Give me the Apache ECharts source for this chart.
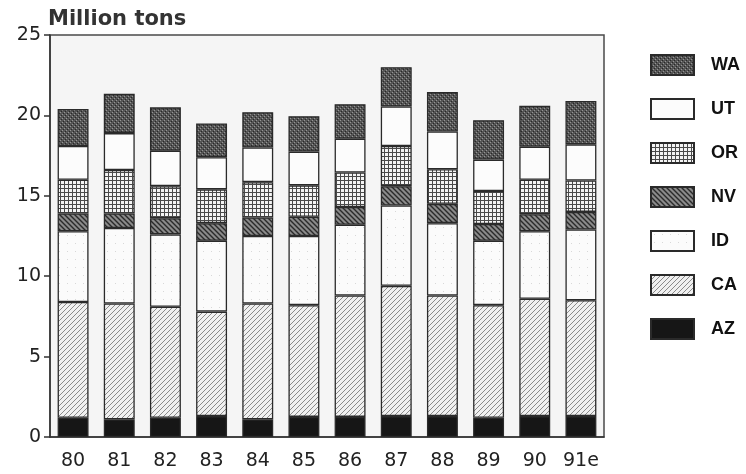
<!DOCTYPE html>
<html>
<head>
<meta charset="utf-8">
<script src="https://cdn.jsdelivr.net/npm/echarts@6/dist/echarts.min.js"></script>
<style>
  html, body { margin: 0; padding: 0; background: #ffffff; }
  #chart { width: 746px; height: 474px; }
</style>
</head>
<body>
<div id="chart"></div>
<script>
// ---- Data (million tons), stacked bottom to top ----
const years = ['80', '81', '82', '83', '84', '85', '86', '87', '88', '89', '90', '91e'];
const AZ = [1.2, 1.1, 1.2, 1.3, 1.1, 1.25, 1.25, 1.3, 1.3, 1.2, 1.3, 1.3];
const CA = [7.2, 7.2, 6.9, 6.5, 7.2, 6.95, 7.55, 8.1, 7.5, 7.0, 7.3, 7.2];
const ID = [4.4, 4.7, 4.5, 4.4, 4.2, 4.3, 4.4, 5.0, 4.5, 4.0, 4.2, 4.4];
const NV = [1.1, 0.9, 1.0, 1.1, 1.15, 1.2, 1.1, 1.2, 1.2, 1.05, 1.05, 1.1];
const OR = [2.1, 2.7, 2.0, 2.1, 2.2, 1.95, 2.15, 2.5, 2.15, 2.05, 2.15, 1.95];
const UT = [2.1, 2.3, 2.2, 2.0, 2.15, 2.1, 2.1, 2.45, 2.35, 1.95, 2.05, 2.25];
const WA = [2.3, 2.45, 2.7, 2.1, 2.2, 2.2, 2.15, 2.45, 2.45, 2.45, 2.55, 2.7];
const yTicks = [0, 5, 10, 15, 20, 25];
const legendOrder = ['WA', 'UT', 'OR', 'NV', 'ID', 'CA', 'AZ'];

// ---- Texture helpers ----
function tile(size, draw) {
  const c = document.createElement('canvas');
  c.width = size; c.height = size;
  const g = c.getContext('2d');
  draw(g, size);
  return { image: c, repeat: 'repeat' };
}
const patWA = tile(4, (g) => {
  g.fillStyle = '#555555'; g.fillRect(0, 0, 4, 4);
  g.fillStyle = '#959595'; g.fillRect(0, 0, 1, 1); g.fillRect(2, 2, 1, 1);
  g.fillStyle = '#282828'; g.fillRect(1, 3, 1, 1); g.fillRect(3, 1, 1, 1);
});
const patUT = '#fcfcfc';
const patOR = tile(4, (g) => {
  g.fillStyle = '#f4f4f4'; g.fillRect(0, 0, 4, 4);
  g.fillStyle = '#4a4a4a'; g.fillRect(0, 0, 4, 1); g.fillRect(0, 0, 1, 4);
});
const patNV = tile(5, (g, s) => {
  g.fillStyle = '#8a8a8a'; g.fillRect(0, 0, s, s);
  g.strokeStyle = '#2a2a2a'; g.lineWidth = 1.4;
  g.beginPath();
  g.moveTo(-1, -1); g.lineTo(s + 1, s + 1);
  g.moveTo(-1, s - 1); g.lineTo(1, s + 1);
  g.moveTo(s - 1, -1); g.lineTo(s + 1, 1);
  g.stroke();
});
const patID = tile(8, (g) => {
  g.fillStyle = '#fbfbfb'; g.fillRect(0, 0, 8, 8);
  g.fillStyle = '#d8d8d8'; g.fillRect(3, 3, 1, 1);
});
const patCA = tile(5, (g, s) => {
  g.fillStyle = '#f0f0f0'; g.fillRect(0, 0, s, s);
  g.strokeStyle = '#8a8a8a'; g.lineWidth = 1;
  g.beginPath();
  g.moveTo(-1, s + 1); g.lineTo(s + 1, -1);
  g.moveTo(-1, 1); g.lineTo(1, -1);
  g.moveTo(s - 1, s + 1); g.lineTo(s + 1, s - 1);
  g.stroke();
});
const patAZ = '#161616';

const FONT = 'DejaVu Sans';
const seriesDefs = [
  { name: 'AZ', data: AZ, color: patAZ },
  { name: 'CA', data: CA, color: patCA },
  { name: 'ID', data: ID, color: patID },
  { name: 'NV', data: NV, color: patNV },
  { name: 'OR', data: OR, color: patOR },
  { name: 'UT', data: UT, color: patUT },
  { name: 'WA', data: WA, color: patWA }
];

const chart = echarts.init(document.getElementById('chart'), null, { renderer: 'canvas' });
chart.setOption({
  animation: false,
  backgroundColor: '#ffffff',
  title: {
    text: 'Million tons',
    left: 43, top: 4,
    textStyle: { fontFamily: FONT, fontSize: 21, fontWeight: 'bold', color: '#333' }
  },
  legend: {
    orient: 'vertical',
    left: 645, top: 49,
    itemWidth: 43, itemHeight: 20, itemGap: 22,
    data: legendOrder,
    icon: 'rect',
    textStyle: { fontFamily: 'Liberation Sans', fontSize: 18, fontWeight: 'bold', color: '#111', padding: [0, 0, 0, 12] }
  },
  grid: {
    left: 50, right: 142, top: 35, bottom: 37,
    show: true, backgroundColor: '#f5f5f5', borderColor: '#4a4a4a', borderWidth: 1.5
  },
  xAxis: {
    type: 'category',
    data: years,
    axisLine: { lineStyle: { color: '#333', width: 1.5 } },
    axisTick: { show: false },
    axisLabel: { interval: 0, fontFamily: FONT, fontSize: 19, color: '#222', margin: 15 }
  },
  yAxis: {
    type: 'value',
    min: yTicks[0], max: yTicks[yTicks.length - 1], interval: 5,
    splitLine: { show: false },
    axisLine: { show: true, lineStyle: { color: '#333', width: 1.5 } },
    axisTick: { show: true, inside: false, length: 6, lineStyle: { color: '#333', width: 1.5 } },
    axisLabel: { fontFamily: FONT, fontSize: 19, color: '#222', margin: 9 }
  },
  series: seriesDefs.map(s => ({
    name: s.name,
    type: 'bar',
    stack: 'total',
    data: s.data,
    barWidth: '67%',
    itemStyle: { color: s.color, borderColor: '#2a2a2a', borderWidth: 1.3 }
  }))
});
</script>
</body>
</html>
